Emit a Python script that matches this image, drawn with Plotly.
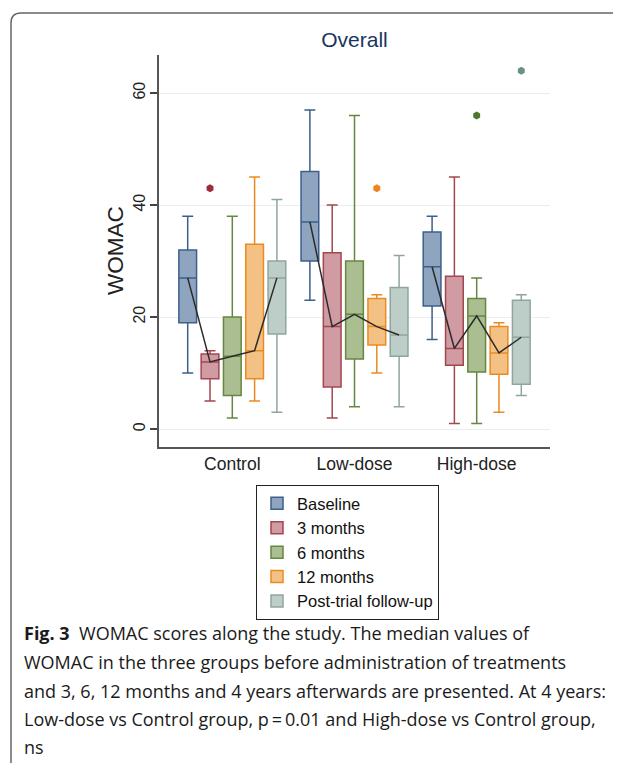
import plotly.graph_objects as go

# ---------------- data ----------------
categories = ["Control", "Low-dose", "High-dose"]
series = ["Baseline", "3 months", "6 months", "12 months", "Post-trial follow-up"]

# rows = series, columns = groups (Control, Low-dose, High-dose)
lower_whisker = [[10, 23, 16], [5, 2, 1], [2, 4, 1], [5, 10, 3], [3, 4, 6]]
q1_values     = [[19, 30, 22], [9, 7.5, 11.4], [6, 12.5, 10.2], [9, 15, 9.8], [17, 13, 8]]
medians       = [[27, 37, 29], [12, 18.3, 14.4], [13, 20.5, 20.2], [14, 18.3, 13.6], [27, 16.8, 16.4]]
q3_values     = [[32, 46, 35.2], [13.4, 31.5, 27.3], [20, 30, 23.3], [33, 23.3, 18.3], [30, 25.3, 23]]
upper_whisker = [[38, 57, 38], [14, 40, 45], [38, 56, 27], [45, 24, 19], [41, 31, 24]]

outlier_series = [1, 3, 2, 4]
outlier_group  = [0, 1, 2, 2]
outlier_value  = [43, 43, 56, 64]

y_ticks = [0, 20, 40, 60]

caption_lines = [
    "<b>Fig. 3</b>  WOMAC scores along the study. The median values of",
    "WOMAC in the three groups before administration of treatments",
    "and 3, 6, 12 months and 4 years afterwards are presented. At 4 years:",
    "Low-dose vs Control group, p\u2009=\u20090.01 and High-dose vs Control group,",
    "ns",
]

# ---------------- styles ----------------
fill_colors = ["rgba(137,159,187,0.95)", "rgba(206,150,158,0.95)", "rgba(165,186,139,0.95)",
               "rgba(243,190,125,0.95)", "rgba(185,202,196,0.95)"]
line_colors = ["#3d5f8c", "#a3474f", "#66873f", "#ec8a22", "#8fa69d"]
outlier_colors = ["#3d5f8c", "#9e2b3a", "#4c7a2c", "#ee8520", "#6e8f84"]

PAGE_W, PAGE_H = 621, 763
BODY = 8                          # default page margin of the html body
W, H = PAGE_W - BODY, PAGE_H - BODY
L, R, T, B = 159, 550, 55, 447    # plot area in page px
box_step = 0.1825
box_width = 0.145


def offset(k):
    return (k - (len(series) - 1) / 2) * box_step


def px2x(px):
    return (px - L) / (R - L)


def px2y(py):
    return (B - py) / (B - T)


fig = go.Figure()

for k, name in enumerate(series):
    xs = [g + offset(k) for g in range(len(categories))]
    fig.add_trace(go.Box(
        name=name,
        x=xs,
        lowerfence=lower_whisker[k],
        q1=q1_values[k],
        median=medians[k],
        q3=q3_values[k],
        upperfence=upper_whisker[k],
        width=box_width,
        whiskerwidth=0.62,
        fillcolor=fill_colors[k],
        line=dict(color=line_colors[k], width=1.5),
        boxpoints=False,
        hoverinfo="y",
        showlegend=True,
    ))

# outliers
for s, g, v in zip(outlier_series, outlier_group, outlier_value):
    fig.add_trace(go.Scatter(
        x=[g + offset(s)], y=[v], mode="markers",
        marker=dict(color=outlier_colors[s], size=8, symbol="hexagon"),
        showlegend=False, hoverinfo="y",
    ))

# median connecting lines (one per group)
for g in range(len(categories)):
    fig.add_trace(go.Scatter(
        x=[g + offset(k) for k in range(len(series))],
        y=[medians[k][g] for k in range(len(series))],
        mode="lines",
        line=dict(color="#2b2b2b", width=1.5),
        showlegend=False, hoverinfo="skip",
    ))

# caption
line_centers = [633, 662, 691, 719, 747]
annotations = []
for text, cy in zip(caption_lines, line_centers):
    annotations.append(dict(
        text=text, xref="paper", yref="paper",
        x=px2x(22), y=px2y(cy), xanchor="left", yanchor="middle",
        showarrow=False, align="left",
        font=dict(family="Open Sans", size=18, color="#1a1a1a"),
    ))

# y axis title
annotations.append(dict(
    text="WOMAC", xref="paper", yref="paper", x=px2x(115), y=px2y(251),
    xanchor="center", yanchor="middle", textangle=-90, showarrow=False,
    font=dict(family="Liberation Sans", size=22.5, color="#222"),
))

# frame around figure
fx0, fy0, r = 11, 13, 10
p = lambda px, py: f"{px2x(px):.5f},{px2y(py):.5f}"
frame_path = (f"M {p(PAGE_W + 20, fy0)} L {p(fx0 + r, fy0)} "
              f"Q {p(fx0, fy0)} {p(fx0, fy0 + r)} L {p(fx0, PAGE_H + 5)}")

fig.update_layout(
    width=W, height=H,
    margin=dict(l=L - BODY, r=PAGE_W - R, t=T - BODY, b=PAGE_H - B),
    paper_bgcolor="white", plot_bgcolor="white",
    boxmode="overlay",
    title=dict(text="Overall", x=0.5, xref="paper", y=1 - (40 - BODY) / H, yanchor="middle",
               font=dict(family="Liberation Sans", size=21, color="#1a3560")),
    xaxis=dict(range=[-0.6, 2.6], tickvals=list(range(len(categories))), ticktext=categories,
               showgrid=False, zeroline=False, showline=True, linecolor="#555", linewidth=2,
               ticks="", tickfont=dict(family="Liberation Sans", size=17.5, color="#222")),
    yaxis=dict(range=[-3.2, 66.8], tickvals=y_ticks, showgrid=True, gridcolor="#e8eff0",
               gridwidth=1, zeroline=False, showline=True, linecolor="#555", linewidth=2,
               ticks="outside", ticklen=7, tickcolor="#444", tickwidth=1.5, tickangle=-90,
               ticklabelstandoff=-1,
               tickfont=dict(family="Liberation Sans", size=16, color="#222")),
    legend=dict(x=px2x(256), y=px2y(485), xanchor="left", yanchor="top",
                bordercolor="#222", borderwidth=1, bgcolor="white",
                font=dict(family="Liberation Sans", size=16.5, color="#111"),
                itemclick=False),
    annotations=annotations,
    shapes=[dict(type="path", path=frame_path, xref="paper", yref="paper",
                 line=dict(color="#666", width=1.5))],
    showlegend=True,
)

fig.write_html("out.html")
